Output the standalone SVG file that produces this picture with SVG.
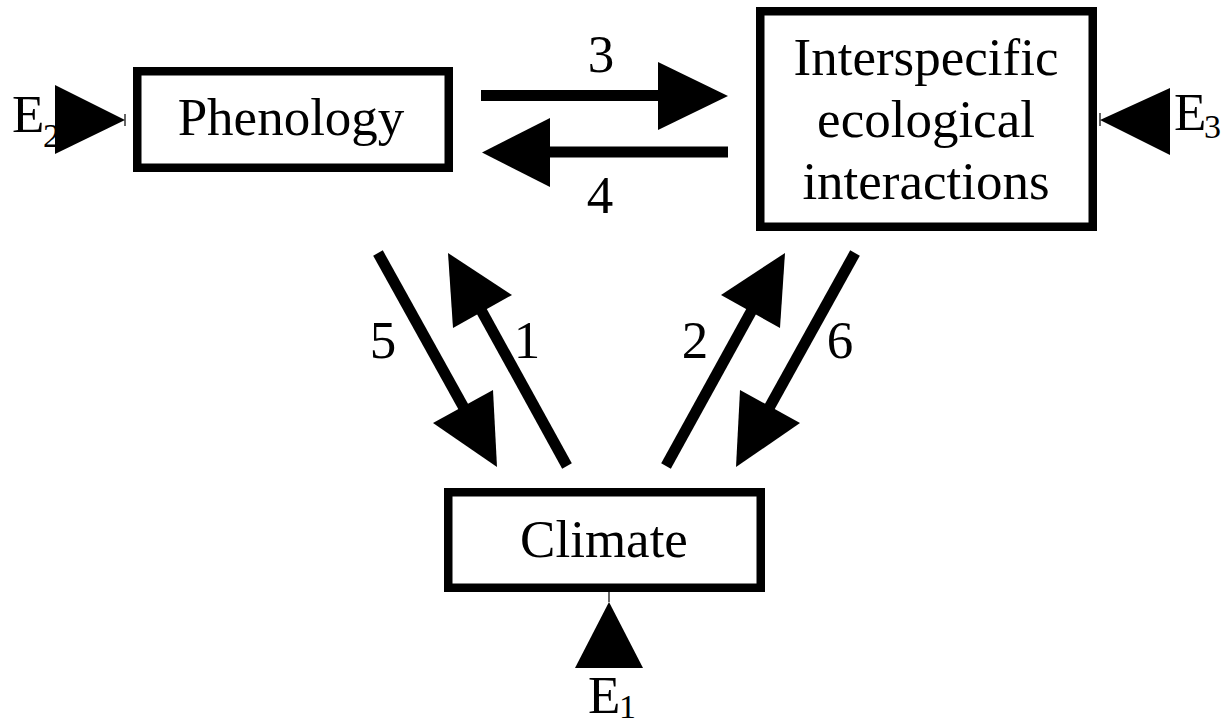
<svg xmlns="http://www.w3.org/2000/svg" width="1229" height="726" viewBox="0 0 1229 726">
<style>
.box{fill:#fff;stroke:#000;stroke-width:8.5}
.t{font-family:"Liberation Serif","Times New Roman",serif;font-size:53px;fill:#000}
.c{text-anchor:middle}
.sub{font-family:"Liberation Serif","Times New Roman",serif;font-size:34px;fill:#000}
.shaft{stroke:#000;stroke-width:11;fill:none;stroke-linecap:butt}
.head{fill:#000;stroke:none}
.tick{stroke:#000;stroke-width:1.2}
</style>
<rect width="1229" height="726" fill="#fff"/>
<g id="phenology">
<rect class="box" x="137.25" y="71.25" width="311.5" height="96.5"/>
<text class="t c" x="291" y="135">Phenology</text>
</g>
<g id="interactions">
<rect class="box" x="760.25" y="11.25" width="332.5" height="215.5"/>
<text class="t c" x="926" y="75">Interspecific</text>
<text class="t c" x="926" y="137">ecological</text>
<text class="t c" x="926" y="199">interactions</text>
</g>
<g id="climate">
<rect class="box" x="448.25" y="492.25" width="312.5" height="95.5"/>
<text class="t c" x="604" y="557">Climate</text>
</g>
<g id="E1">
<text class="t" x="588" y="713">E</text><text class="sub" x="619" y="718">1</text>
</g>
<g id="E2">
<text class="t" x="12" y="132">E</text><text class="sub" x="43" y="147">2</text>
</g>
<g id="E3">
<text class="t" x="1174" y="130">E</text><text class="sub" x="1204" y="138">3</text>
</g>
<g id="connectors">
<line class="shaft" x1="481" y1="95.5" x2="659" y2="95.5"/>
<polygon class="head" points="658,62 658,130 728,96"/>
<line class="shaft" x1="728" y1="152" x2="549" y2="152"/>
<polygon class="head" points="550,118 550,187 482,152.5"/>
<line class="shaft" x1="378" y1="253" x2="464" y2="408"/>
<polygon class="head" points="433,423 493,390 497,467"/>
<line class="shaft" x1="567" y1="466" x2="481" y2="310"/>
<polygon class="head" points="448,253 512,295 453,328"/>
<line class="shaft" x1="666" y1="466" x2="752" y2="310"/>
<polygon class="head" points="785,253 721,295 780,328"/>
<line class="shaft" x1="855" y1="253" x2="769" y2="408"/>
<polygon class="head" points="800,423 740,390 736,467"/>
<polygon class="head" points="55,85 55,154 125,120"/>
<line class="tick" x1="125" y1="114" x2="125" y2="126"/>
<polygon class="head" points="1170,88 1170,155 1100,120"/>
<line class="tick" x1="1100" y1="113" x2="1100" y2="126"/>
<polygon class="head" points="609,602 575,668 643,668"/>
<line class="tick" x1="609" y1="592" x2="609" y2="602"/>
</g>
<g id="labels">
<text class="t c" x="601" y="72">3</text>
<text class="t c" x="600" y="213">4</text>
<text class="t c" x="383" y="358">5</text>
<text class="t c" x="527" y="358">1</text>
<text class="t c" x="695" y="358">2</text>
<text class="t c" x="840" y="358">6</text>
</g>
</svg>
